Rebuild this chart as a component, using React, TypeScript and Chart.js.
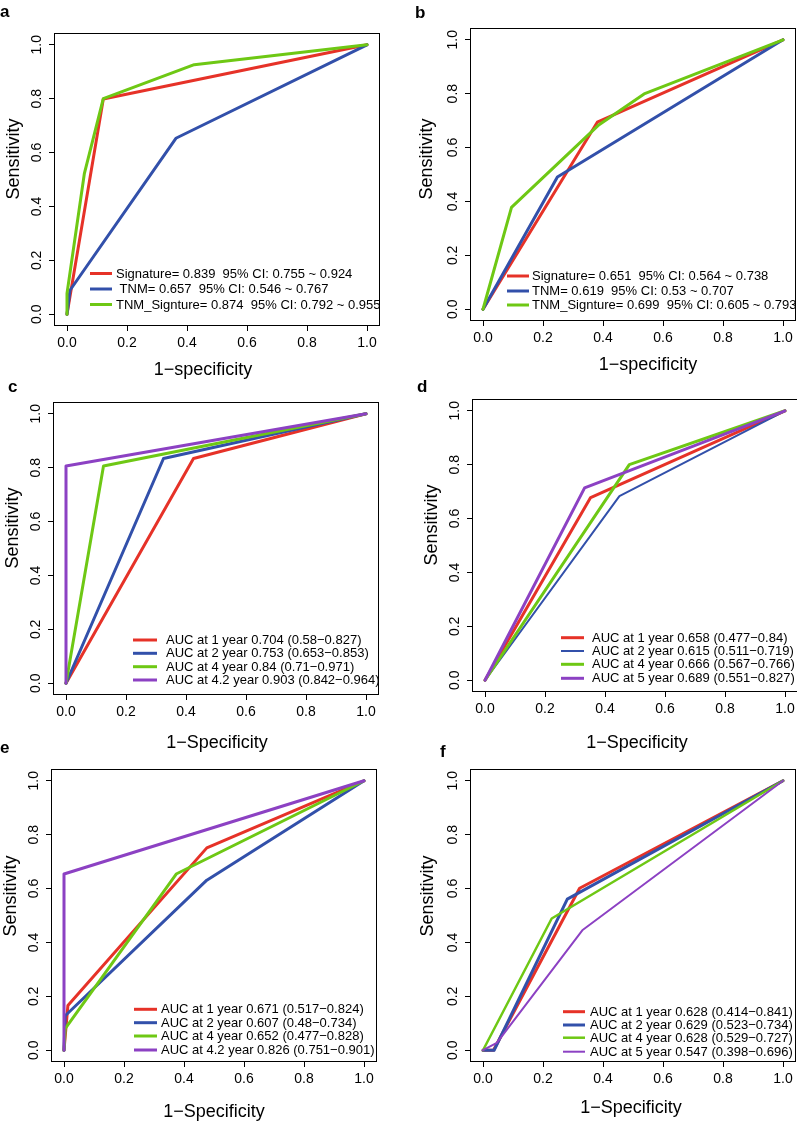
import React, { useEffect, useRef } from 'react';
import { Chart, registerables } from 'chart.js';

Chart.register(...registerables);

const FONT = '"Liberation Sans", Arial, Helvetica, sans-serif';
const RED = 'rgb(230,50,40)';
const BLUE = 'rgb(50,80,170)';
const GREEN = 'rgb(110,200,20)';
const PURPLE = 'rgb(140,65,195)';

const tickValues = [0, 0.2, 0.4, 0.6, 0.8, 1.0];
const AXIS_MIN = -0.04;
const AXIS_MAX = 1.04;

// ---- Panel a ----
const aSignatureX = [0, 0.121, 1];
const aSignatureY = [0, 0.799, 1];
const aTnmX = [0, 0.01, 0.363, 1];
const aTnmY = [0, 0.089, 0.653, 1];
const aComboX = [0, 0, 0.058, 0.121, 0.424, 1];
const aComboY = [0, 0.077, 0.523, 0.8, 0.926, 1];
const aLabels = [
  'Signature= 0.839  95% CI: 0.755 ~ 0.924',
  ' TNM= 0.657  95% CI: 0.546 ~ 0.767',
  'TNM_Signture= 0.874  95% CI: 0.792 ~ 0.955',
];

// ---- Panel b ----
const bSignatureX = [0, 0.381, 1];
const bSignatureY = [0, 0.694, 1];
const bTnmX = [0, 0.248, 1];
const bTnmY = [0, 0.491, 1];
const bComboX = [0, 0.095, 0.387, 0.537, 1];
const bComboY = [0, 0.378, 0.685, 0.799, 1];
const bLabels = [
  'Signature= 0.651  95% CI: 0.564 ~ 0.738',
  'TNM= 0.619  95% CI: 0.53 ~ 0.707',
  'TNM_Signture= 0.699  95% CI: 0.605 ~ 0.793',
];

// ---- Panel c ----
const cY1X = [0, 0.425, 1];
const cY1Y = [0, 0.834, 1];
const cY2X = [0, 0.325, 1];
const cY2Y = [0, 0.834, 1];
const cY4X = [0, 0.125, 1];
const cY4Y = [0, 0.806, 1];
const cY42X = [0, 0, 1];
const cY42Y = [0, 0.806, 1];
const cLabels = [
  'AUC at 1 year 0.704 (0.58\u22120.827)',
  'AUC at 2 year 0.753 (0.653\u22120.853)',
  'AUC at 4 year 0.84 (0.71\u22120.971)',
  'AUC at 4.2 year 0.903 (0.842\u22120.964)',
];

// ---- Panel d ----
const dY1X = [0, 0.352, 1];
const dY1Y = [0, 0.678, 1];
const dY2X = [0, 0.448, 1];
const dY2Y = [0, 0.683, 1];
const dY4X = [0, 0.481, 1];
const dY4Y = [0, 0.8, 1];
const dY5X = [0, 0.332, 1];
const dY5Y = [0, 0.714, 1];
const dLabels = [
  'AUC at 1 year 0.658 (0.477\u22120.84)',
  'AUC at 2 year 0.615 (0.511\u22120.719)',
  'AUC at 4 year 0.666 (0.567\u22120.766)',
  'AUC at 5 year 0.689 (0.551\u22120.827)',
];

// ---- Panel e ----
const eY1X = [0, 0.013, 0.476, 1];
const eY1Y = [0, 0.166, 0.751, 1];
const eY2X = [0, 0.004, 0.476, 1];
const eY2Y = [0, 0.128, 0.631, 1];
const eY4X = [0, 0.004, 0.374, 1];
const eY4Y = [0, 0.08, 0.654, 1];
const eY42X = [0, 0, 1];
const eY42Y = [0, 0.654, 1];
const eLabels = [
  'AUC at 1 year 0.671 (0.517\u22120.824)',
  'AUC at 2 year 0.607 (0.48\u22120.734)',
  'AUC at 4 year 0.652 (0.477\u22120.828)',
  'AUC at 4.2 year 0.826 (0.751\u22120.901)',
];

// ---- Panel f ----
const fY1X = [0, 0.035, 0.322, 1];
const fY1Y = [0, 0, 0.601, 1];
const fY2X = [0, 0.037, 0.281, 1];
const fY2Y = [0, 0, 0.561, 1];
const fY4X = [0, 0.229, 1];
const fY4Y = [0, 0.489, 1];
const fY5X = [0, 0.046, 0.331, 1];
const fY5Y = [0, 0.027, 0.445, 1];
const fLabels = [
  'AUC at 1 year 0.628 (0.414\u22120.841)',
  'AUC at 2 year 0.629 (0.523\u22120.734)',
  'AUC at 4 year 0.628 (0.529\u22120.727)',
  'AUC at 5 year 0.547 (0.398\u22120.696)',
];

type Series = { label: string; xs: number[]; ys: number[]; color: string; width: number };
type Rect = { left: number; top: number; width: number; height: number };
type Panel = {
  id: string;
  letter: string;
  letterPos: [number, number];
  canvas: Rect;
  area: Rect;
  xTitle: string;
  xTitlePos: [number, number];
  yTitlePos: [number, number];
  legend: { x0: number; x1: number; textX: number; rows: number[] };
  series: Series[];
};

const Y_AXIS_W = 30;
const X_AXIS_H = 30;

const LEFT_CANVAS_X = -20;
const LEFT_CANVAS_W = 417;
const RIGHT_CANVAS_X = 380;
const RIGHT_CANVAS_W = 440;

const panels: Panel[] = [
  {
    id: 'a', letter: 'a', letterPos: [0, 17],
    canvas: { left: LEFT_CANVAS_X, top: 0, width: LEFT_CANVAS_W, height: 390 },
    area: { left: 55, top: 34, width: 324, height: 291 },
    xTitle: '1\u2212specificity', xTitlePos: [203, 374.5], yTitlePos: [19, 159],
    legend: { x0: 90, x1: 112, textX: 116, rows: [273.5, 289, 304.5] },
    series: [
      { label: aLabels[0], xs: aSignatureX, ys: aSignatureY, color: RED, width: 3 },
      { label: aLabels[1], xs: aTnmX, ys: aTnmY, color: BLUE, width: 3 },
      { label: aLabels[2], xs: aComboX, ys: aComboY, color: GREEN, width: 3 },
    ],
  },
  {
    id: 'b', letter: 'b', letterPos: [415, 18],
    canvas: { left: RIGHT_CANVAS_X, top: 0, width: RIGHT_CANVAS_W, height: 390 },
    area: { left: 471, top: 29, width: 324, height: 291 },
    xTitle: '1\u2212specificity', xTitlePos: [648, 369.5], yTitlePos: [432, 159],
    legend: { x0: 507, x1: 529, textX: 532, rows: [276, 291, 305] },
    series: [
      { label: bLabels[0], xs: bSignatureX, ys: bSignatureY, color: RED, width: 3 },
      { label: bLabels[1], xs: bTnmX, ys: bTnmY, color: BLUE, width: 3 },
      { label: bLabels[2], xs: bComboX, ys: bComboY, color: GREEN, width: 3 },
    ],
  },
  {
    id: 'c', letter: 'c', letterPos: [8, 392],
    canvas: { left: LEFT_CANVAS_X, top: 370, width: LEFT_CANVAS_W, height: 390 },
    area: { left: 54, top: 403, width: 324, height: 291 },
    xTitle: '1\u2212Specificity', xTitlePos: [217, 747.5], yTitlePos: [18, 528],
    legend: { x0: 133, x1: 157, textX: 166, rows: [640, 653.3, 666.7, 680] },
    series: [
      { label: cLabels[0], xs: cY1X, ys: cY1Y, color: RED, width: 3 },
      { label: cLabels[1], xs: cY2X, ys: cY2Y, color: BLUE, width: 3 },
      { label: cLabels[2], xs: cY4X, ys: cY4Y, color: GREEN, width: 3 },
      { label: cLabels[3], xs: cY42X, ys: cY42Y, color: PURPLE, width: 3 },
    ],
  },
  {
    id: 'd', letter: 'd', letterPos: [417, 392],
    canvas: { left: RIGHT_CANVAS_X, top: 370, width: RIGHT_CANVAS_W, height: 390 },
    area: { left: 473, top: 400, width: 324, height: 291 },
    xTitle: '1\u2212Specificity', xTitlePos: [637, 747.5], yTitlePos: [437, 525],
    legend: { x0: 561, x1: 584, textX: 592, rows: [637.7, 651, 664.3, 678.3] },
    series: [
      { label: dLabels[0], xs: dY1X, ys: dY1Y, color: RED, width: 3 },
      { label: dLabels[1], xs: dY2X, ys: dY2Y, color: BLUE, width: 2 },
      { label: dLabels[2], xs: dY4X, ys: dY4Y, color: GREEN, width: 3 },
      { label: dLabels[3], xs: dY5X, ys: dY5Y, color: PURPLE, width: 3 },
    ],
  },
  {
    id: 'e', letter: 'e', letterPos: [0, 753],
    canvas: { left: LEFT_CANVAS_X, top: 735, width: LEFT_CANVAS_W, height: 388 },
    area: { left: 52, top: 770, width: 324, height: 291 },
    xTitle: '1\u2212Specificity', xTitlePos: [214, 1116.5], yTitlePos: [16, 896],
    legend: { x0: 134, x1: 157, textX: 161, rows: [1009.3, 1022.7, 1036, 1050] },
    series: [
      { label: eLabels[0], xs: eY1X, ys: eY1Y, color: RED, width: 3 },
      { label: eLabels[1], xs: eY2X, ys: eY2Y, color: BLUE, width: 3 },
      { label: eLabels[2], xs: eY4X, ys: eY4Y, color: GREEN, width: 3 },
      { label: eLabels[3], xs: eY42X, ys: eY42Y, color: PURPLE, width: 3 },
    ],
  },
  {
    id: 'f', letter: 'f', letterPos: [440, 757],
    canvas: { left: RIGHT_CANVAS_X, top: 735, width: RIGHT_CANVAS_W, height: 388 },
    area: { left: 471, top: 770, width: 324, height: 291 },
    xTitle: '1\u2212Specificity', xTitlePos: [631, 1113], yTitlePos: [433, 896],
    legend: { x0: 563, x1: 585, textX: 590, rows: [1011.7, 1025, 1037.7, 1051.7] },
    series: [
      { label: fLabels[0], xs: fY1X, ys: fY1Y, color: RED, width: 3 },
      { label: fLabels[1], xs: fY2X, ys: fY2Y, color: BLUE, width: 3 },
      { label: fLabels[2], xs: fY4X, ys: fY4Y, color: GREEN, width: 2.5 },
      { label: fLabels[3], xs: fY5X, ys: fY5Y, color: PURPLE, width: 2 },
    ],
  },
];

function makeDecorPlugin(p: Panel) {
  const ox = p.canvas.left;
  const oy = p.canvas.top;
  return {
    id: 'decor_' + p.id,
    afterDraw(chart: any) {
      const ctx: CanvasRenderingContext2D = chart.ctx;
      const ca = chart.chartArea;
      ctx.save();
      // plot box
      ctx.strokeStyle = '#000';
      ctx.lineWidth = 1;
      ctx.strokeRect(ca.left - 0.5, ca.top - 0.5, ca.right - ca.left + 1, ca.bottom - ca.top + 1);

      // legend
      ctx.font = `13px ${FONT}`;
      ctx.textBaseline = 'middle';
      ctx.textAlign = 'left';
      p.series.forEach((s, i) => {
        const y = p.legend.rows[i] - oy;
        ctx.strokeStyle = s.color;
        ctx.lineWidth = s.width;
        ctx.lineCap = 'butt';
        ctx.beginPath();
        ctx.moveTo(p.legend.x0 - ox, y);
        ctx.lineTo(p.legend.x1 - ox, y);
        ctx.stroke();
        ctx.fillStyle = '#000';
        ctx.fillText(s.label, p.legend.textX - ox, y + 0.5);
      });

      // axis titles
      ctx.fillStyle = '#000';
      ctx.font = `18px ${FONT}`;
      ctx.textAlign = 'center';
      ctx.textBaseline = 'alphabetic';
      ctx.fillText(p.xTitle, p.xTitlePos[0] - ox, p.xTitlePos[1] - oy);
      ctx.save();
      ctx.translate(p.yTitlePos[0] - ox, p.yTitlePos[1] - oy);
      ctx.rotate(-Math.PI / 2);
      ctx.fillText('Sensitivity', 0, 0);
      ctx.restore();

      // panel letter
      ctx.font = `bold 17px ${FONT}`;
      ctx.textAlign = 'left';
      ctx.fillText(p.letter, p.letterPos[0] - ox, p.letterPos[1] - oy);
      ctx.restore();
    },
  };
}

function axisOptions(isY: boolean) {
  return {
    type: 'linear',
    min: AXIS_MIN,
    max: AXIS_MAX,
    bounds: 'data',
    afterBuildTicks: (scale: any) => {
      scale.ticks = tickValues.map((v) => ({ value: v }));
    },
    afterFit: (scale: any) => {
      if (isY) scale.width = Y_AXIS_W;
      else scale.height = X_AXIS_H;
    },
    grid: {
      display: true,
      drawOnChartArea: false,
      drawTicks: true,
      tickLength: 6,
      color: '#000',
      lineWidth: 1,
    },
    border: { display: false },
    title: { display: false },
    ticks: {
      color: '#000',
      font: { family: FONT, size: 14 },
      padding: isY ? 2 : 4,
      autoSkip: false,
      minRotation: isY ? 90 : 0,
      maxRotation: isY ? 90 : 0,
      crossAlign: isY ? 'center' : 'near',
      callback: (v: any) => Number(v).toFixed(1),
    },
  };
}

function RocPanel({ panel }: { panel: Panel }) {
  const ref = useRef<HTMLCanvasElement>(null);
  useEffect(() => {
    const canvas = ref.current;
    if (!canvas) return;
    const c = panel.canvas;
    const a = panel.area;
    const padding = {
      left: a.left - c.left - Y_AXIS_W,
      top: a.top - c.top,
      right: c.left + c.width - (a.left + a.width),
      bottom: c.top + c.height - (a.top + a.height) - X_AXIS_H,
    };
    const n = panel.series.length;
    const chart = new Chart(canvas, {
      type: 'scatter',
      data: {
        datasets: panel.series.map((s, i) => ({
          label: s.label,
          data: s.xs.map((x, j) => ({ x, y: s.ys[j] })),
          showLine: true,
          borderColor: s.color,
          backgroundColor: s.color,
          borderWidth: s.width,
          pointRadius: 0,
          pointHoverRadius: 0,
          borderCapStyle: 'round',
          borderJoinStyle: 'round',
          tension: 0,
          order: n - i,
          clip: false,
        })),
      },
      options: {
        responsive: false,
        animation: false,
        devicePixelRatio: 1,
        events: [],
        layout: { padding },
        plugins: {
          legend: { display: false },
          tooltip: { enabled: false },
          title: { display: false },
        },
        scales: {
          x: axisOptions(false),
          y: axisOptions(true),
        },
      } as any,
      plugins: [makeDecorPlugin(panel)],
    } as any);
    return () => chart.destroy();
  }, [panel]);
  const c = panel.canvas;
  return (
    <canvas
      ref={ref}
      width={c.width}
      height={c.height}
      style={{ position: 'absolute', left: c.left, top: c.top, width: c.width, height: c.height }}
    />
  );
}

export default function App() {
  return (
    <div
      style={{
        position: 'absolute',
        left: 0,
        top: 0,
        width: 797,
        height: 1123,
        overflow: 'hidden',
        background: '#fff',
      }}
    >
      {panels.map((p) => (
        <RocPanel key={p.id} panel={p} />
      ))}
    </div>
  );
}
